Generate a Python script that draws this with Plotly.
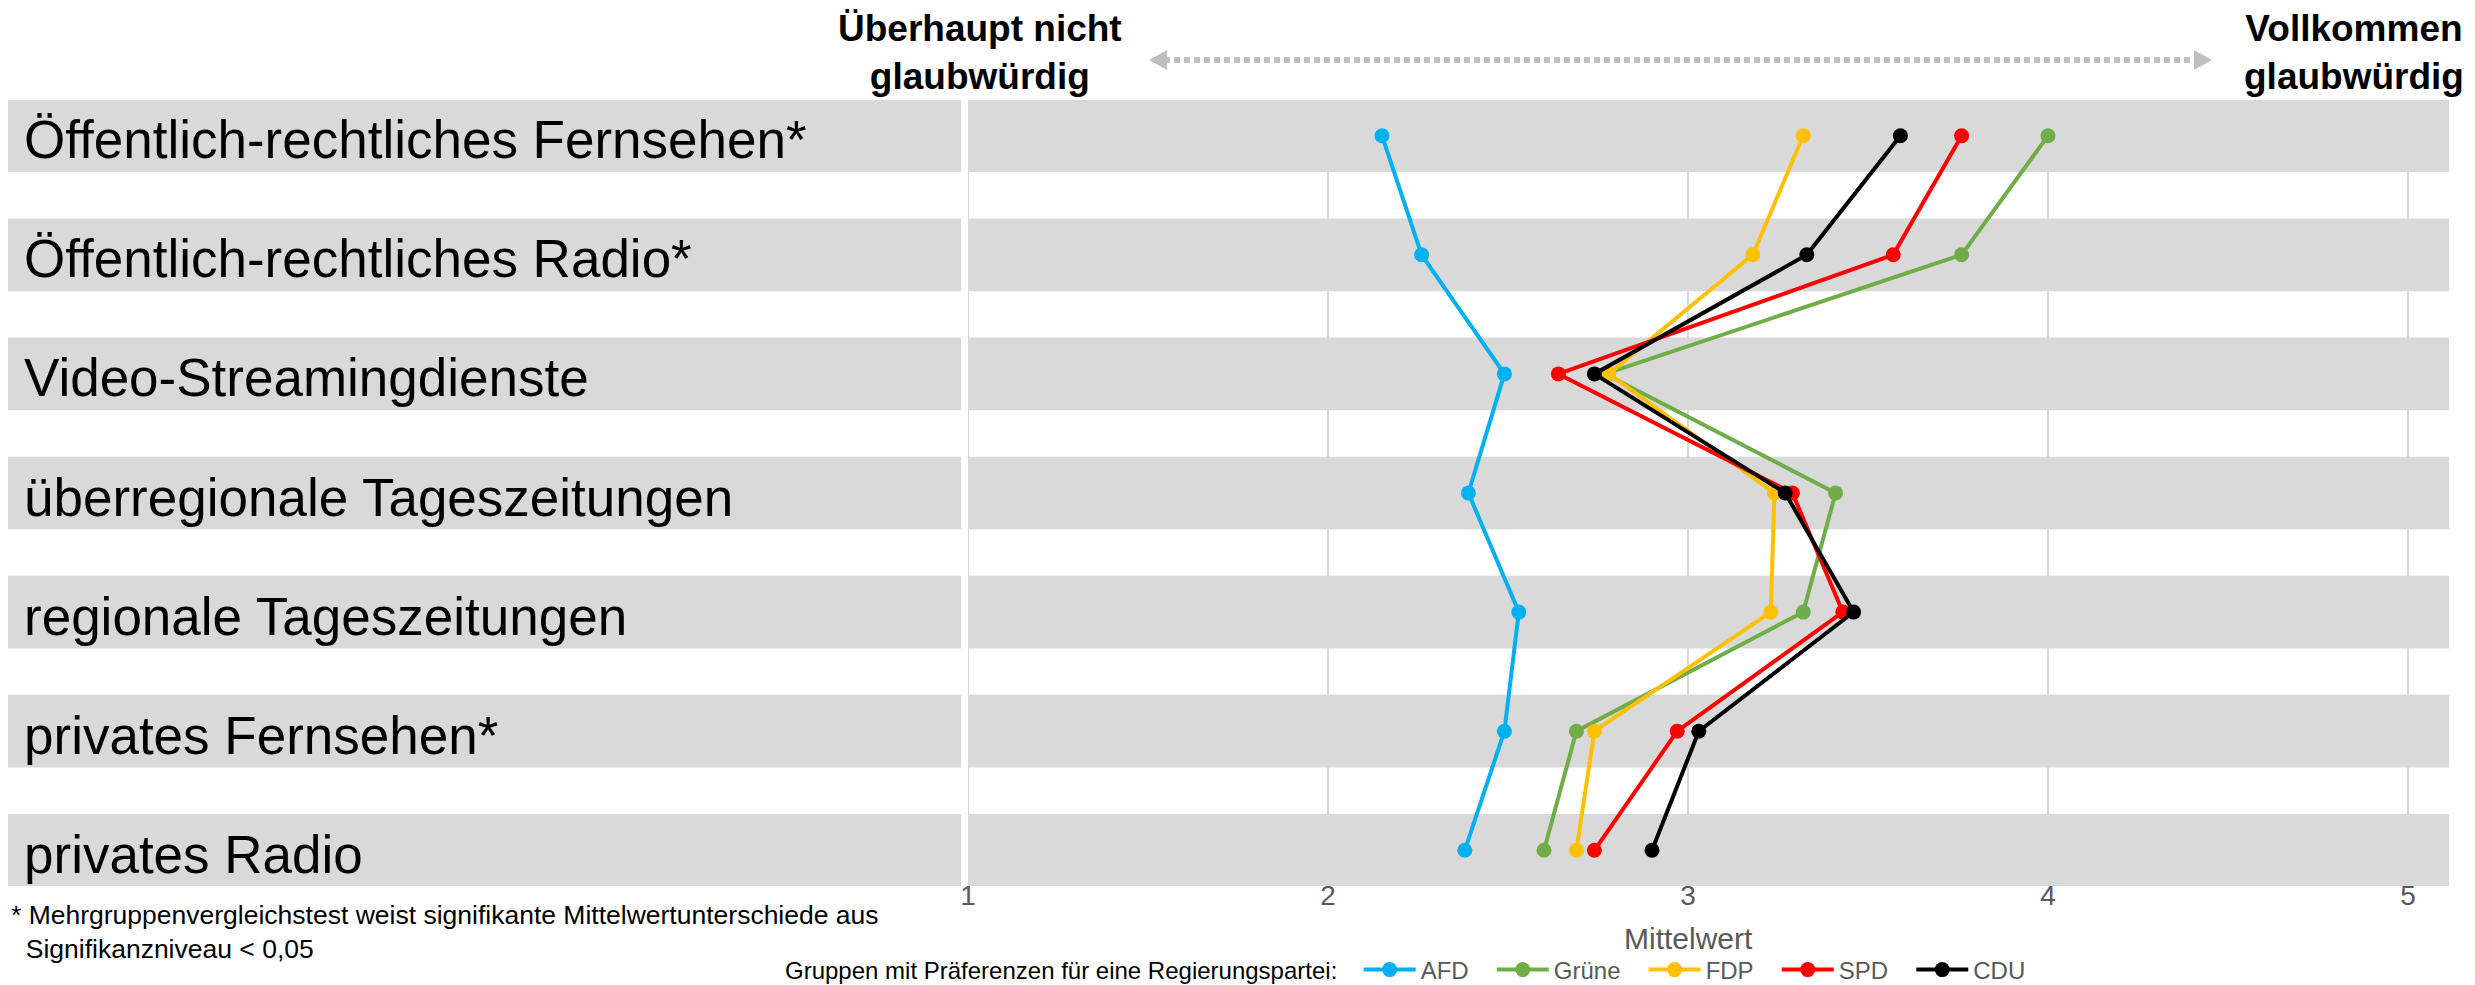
import plotly.graph_objects as go

W, H = 2475, 985
OFF = 8  # Seitenrand des Browsers

# medienkategorien (oben nach unten)
categories = [
    "Öffentlich-rechtliches Fernsehen*",
    "Öffentlich-rechtliches Radio*",
    "Video-Streamingdienste",
    "überregionale Tageszeitungen",
    "regionale Tageszeitungen",
    "privates Fernsehen*",
    "privates Radio",
]

# Mittelwerte je Parteipräferenz
afd = [2.15, 2.26, 2.49, 2.39, 2.53, 2.49, 2.38]
gruene = [4.00, 3.76, 2.77, 3.41, 3.32, 2.69, 2.60]
fdp = [3.32, 3.18, 2.78, 3.24, 3.23, 2.74, 2.69]
spd = [3.76, 3.57, 2.64, 3.29, 3.43, 2.97, 2.74]
cdu = [3.59, 3.33, 2.74, 3.27, 3.46, 3.03, 2.90]

series = [
    ("AFD", afd, "#00b0f0"),
    ("Grüne", gruene, "#70ad47"),
    ("FDP", fdp, "#ffc000"),
    ("SPD", spd, "#ff0000"),
    ("CDU", cdu, "#000000"),
]

x_ticks = [1, 2, 3, 4, 5]

FONT = "Arial, Liberation Sans, sans-serif"
GRAY_TXT = "#595959"
BAND = "#d9d9d9"
NB = "\u00a0"


def px(x):
    return (x - OFF) / (W - OFF)


def py(y):
    return 1 - (y - OFF) / (H - OFF)


fig = go.Figure()

for name, vals, color in series:
    fig.add_trace(go.Scatter(
        x=vals, y=categories, name=name + NB * 2 + "\u2009", mode="lines+markers",
        line=dict(color=color, width=4),
        marker=dict(color=color, size=15),
    ))

# Gitterlinien unter den Bändern
for t in x_ticks:
    fig.add_shape(type="line", xref="x", yref="y domain", x0=t, x1=t, y0=0, y1=1,
                  line=dict(color=BAND, width=2), layer="below")

# graue Bänder hinter jeder Zeile
for i, cat in enumerate(categories):
    fig.add_shape(type="rect", xref="paper", yref="y",
                  x0=px(6), x1=px(961), y0=i - 0.305, y1=i + 0.305,
                  fillcolor=BAND, line_width=0, layer="below")
    fig.add_shape(type="rect", xref="x domain", yref="y",
                  x0=0, x1=1, y0=i - 0.305, y1=i + 0.305,
                  fillcolor=BAND, line_width=0, layer="below")
    fig.add_annotation(text=cat, xref="paper", yref="y", x=px(22), y=i, yshift=-4,
                       xanchor="left", yanchor="middle", showarrow=False,
                       font=dict(size=53, color="#000000", family=FONT))

# Kopfzeile mit Pfeil
fig.add_annotation(text="<b>Überhaupt nicht<br>glaubwürdig</b>", xref="paper", yref="paper",
                   x=px(980), y=py(52), xanchor="center", yanchor="middle",
                   showarrow=False, font=dict(size=37, color="#000000", family=FONT))
fig.add_annotation(text="<b>Vollkommen<br>glaubwürdig</b>", xref="paper", yref="paper",
                   x=px(2354), y=py(52), xanchor="center", yanchor="middle",
                   showarrow=False, font=dict(size=37, color="#000000", family=FONT))
fig.add_shape(type="line", xref="paper", yref="paper",
              x0=px(1164), x1=px(2196), y0=py(60), y1=py(60),
              line=dict(color="#bfbfbf", width=6, dash="6px,4px"), layer="above")
fig.add_shape(type="path", xref="paper", yref="paper",
              path=f"M {px(1149)},{py(60)} L {px(1167)},{py(50)} L {px(1167)},{py(70)} Z",
              fillcolor="#bfbfbf", line_width=0, layer="above")
fig.add_shape(type="path", xref="paper", yref="paper",
              path=f"M {px(2212)},{py(60)} L {px(2194)},{py(50)} L {px(2194)},{py(70)} Z",
              fillcolor="#bfbfbf", line_width=0, layer="above")

# Achsentitel und Fußnote
fig.add_annotation(text="Mittelwert", xref="x", yref="paper", x=3, y=py(938),
                   xanchor="center", yanchor="middle", showarrow=False,
                   font=dict(size=30, color=GRAY_TXT, family=FONT))
fig.add_annotation(
    text="* Mehrgruppenvergleichstest weist signifikante Mittelwertunterschiede aus<br>"
         + NB * 2 + "Signifikanzniveau < 0,05",
    xref="paper", yref="paper", x=px(9), y=py(932), xanchor="left",
    yanchor="middle", align="left", showarrow=False,
    font=dict(size=26.5, color="#000000", family=FONT))

fig.update_layout(
    width=W - OFF, height=H - OFF,
    paper_bgcolor="white", plot_bgcolor="white",
    margin=dict(l=0, r=0, t=0, b=0, autoexpand=False),
    font=dict(family=FONT),
    xaxis=dict(
        domain=[px(968), px(2449)], range=[1, 1 + (2449 - 968) / 360],
        tickvals=x_ticks, ticktext=[str(t) for t in x_ticks],
        showgrid=False, zeroline=False, ticklabelstandoff=-10,
        showline=False, ticks="", tickfont=dict(size=28, color=GRAY_TXT),
    ),
    yaxis=dict(
        domain=[py(886), py(100)], type="category",
        categoryorder="array", categoryarray=categories,
        range=[6.3, -0.3], showticklabels=False, showgrid=False,
        zeroline=False, ticks="",
    ),
    legend=dict(
        orientation="h", x=px(783), y=py(970), xanchor="left", yanchor="middle",
        font=dict(size=24, color=GRAY_TXT, family=FONT),
        title=dict(text="Gruppen mit Präferenzen für eine Regierungspartei:  ",
                   side="left", font=dict(size=24, color="#000000", family=FONT)),
        itemwidth=52, tracegroupgap=0,
    ),
    showlegend=True,
)

fig.write_html("out.html")
